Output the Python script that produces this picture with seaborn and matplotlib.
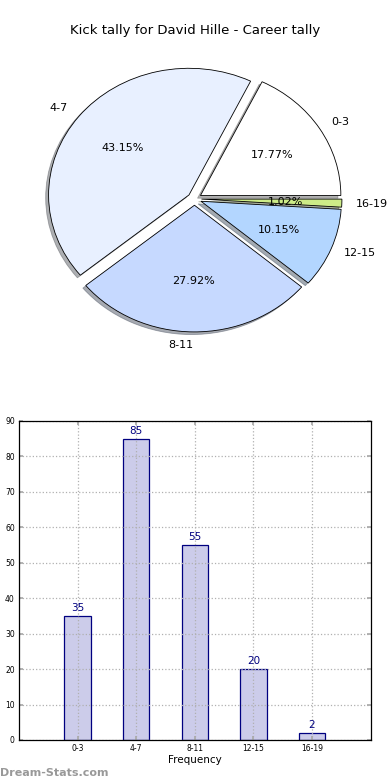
import matplotlib
matplotlib.use("Agg")
import matplotlib.pyplot as plt
import seaborn as sns
import pandas as pd

categories = ["0-3", "4-7", "8-11", "12-15", "16-19"]
counts = [35, 85, 55, 20, 2]
pie_colors = ["#ffffff", "#e8f0ff", "#c6d9ff", "#b3d6ff", "#cdec88"]
yticks = [0, 10, 20, 30, 40, 50, 60, 70, 80, 90]
title = "Kick tally for David Hille - Career tally"

sns.set_theme(style="white")
plt.rcParams['font.family'] = ['DejaVu Sans']
plt.rcParams['text.color'] = 'black'
plt.rcParams['axes.labelcolor'] = 'black'
plt.rcParams['xtick.color'] = 'black'
plt.rcParams['ytick.color'] = 'black'

fig = plt.figure(figsize=(3.9, 7.8), dpi=100)
fig.patch.set_facecolor("white")

# Pie
ax1 = fig.add_axes([0.0487, 0.542, 0.9, 0.406])
wedges, texts, autotexts = ax1.pie(
    counts, labels=categories, colors=pie_colors, autopct="%.2f%%",
    explode=[0.05] * len(counts),
    shadow={"ox": -0.015, "oy": -0.015, "shade": 0.6},
    startangle=0,
    wedgeprops=dict(edgecolor="black", linewidth=0.6),
    textprops=dict(fontsize=8, color="black"))
ax1.set_aspect("auto")
ax1.set_xlim(-1.25, 1.25)
ax1.set_ylim(-1.25, 1.25)
fig.text(0.5, 0.961, title, ha="center", va="center", fontsize=9.5, color="black")

# Bars
ax2 = fig.add_axes([0.0487, 0.0513, 0.9013, 0.409])
df = pd.DataFrame({"cat": categories, "count": counts})
sns.barplot(data=df, x="cat", y="count", ax=ax2, width=0.45,
            color="#ccccea", edgecolor="#000080", linewidth=0.9, saturation=1)
ax2.set_xlim(-1, 5)
ax2.set_ylim(0, 90)
ax2.set_yticks(yticks)
ax2.grid(True, linestyle=":", color="#b0b0b0", linewidth=0.9)
ax2.set_axisbelow(False)
for p in ax2.patches:
    p.set_zorder(1)
for line in ax2.get_xgridlines() + ax2.get_ygridlines():
    line.set_zorder(2)
for i, v in enumerate(counts):
    ax2.text(i, v + 0.8, str(v), ha="center", va="bottom", fontsize=7.5, color="#000080")
ax2.set_xlabel("Frequency", fontsize=7.5, labelpad=1, color="black")
ax2.set_ylabel("")
ax2.tick_params(axis="both", direction="in", labelsize=5.5, length=3, color="#aaaaaa", pad=3,
                labelcolor="black", right=True, top=True, bottom=True, left=True)
for s in ax2.spines.values():
    s.set_color("black")
    s.set_linewidth(0.9)
    s.set_zorder(5)

fig.text(0.0, 0.003, "Dream-Stats.com", ha="left", va="bottom", fontsize=8,
         color="#999999", fontweight="bold")

fig.savefig("out.png", dpi=100)
